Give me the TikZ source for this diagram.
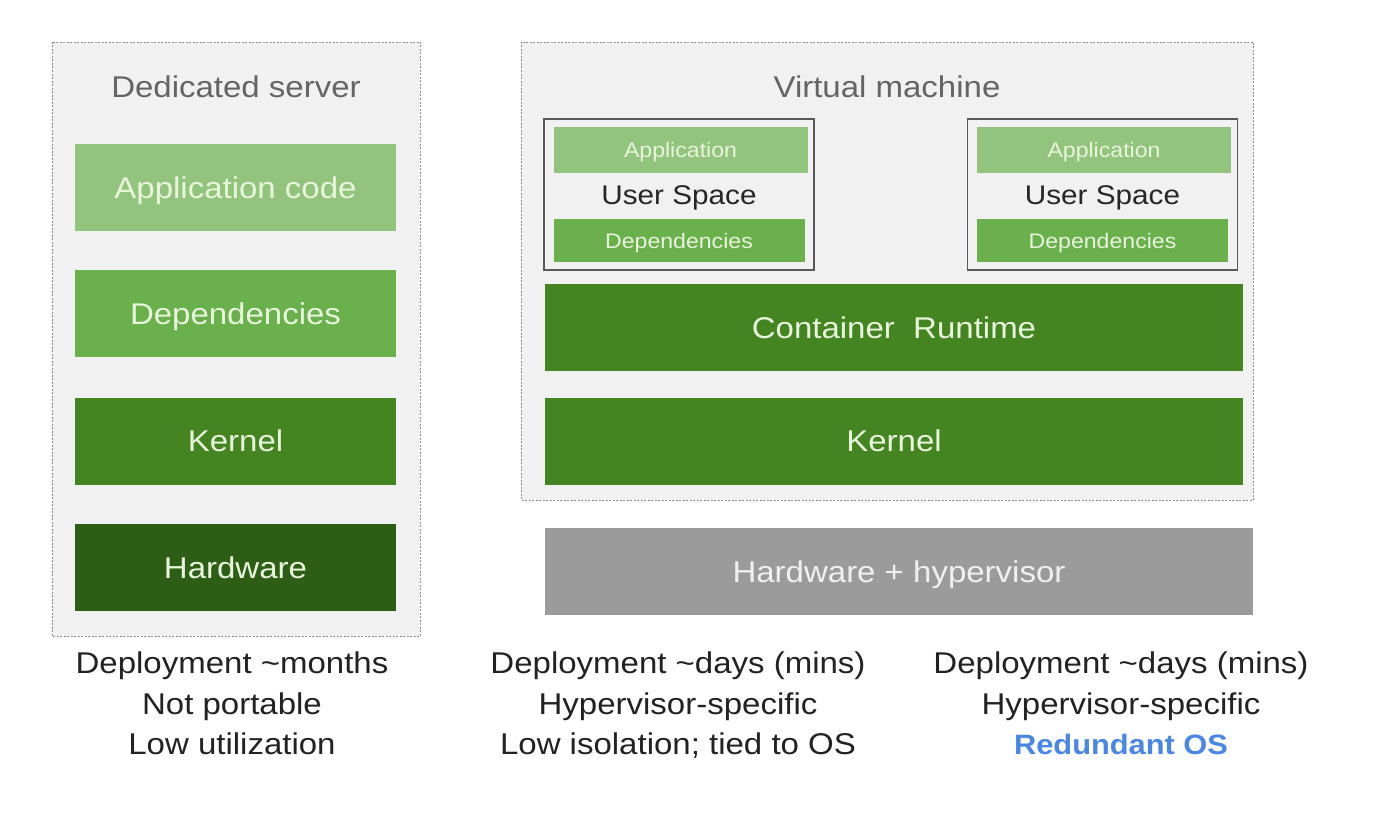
\documentclass[tikz,border=0pt]{standalone}
\usepackage{fontspec}
\setmainfont{Liberation Sans}[FakeStretch=1.1]
\usepackage{tikz}
\usepackage{color}
\definecolor{panelgray}{RGB}{241,241,241}
\definecolor{framegray}{RGB}{140,140,140}
\definecolor{titlegray}{RGB}{100,100,100}
\definecolor{appgreen}{RGB}{147,196,125}
\definecolor{depgreen}{RGB}{106,176,76}
\definecolor{kerngreen}{RGB}{68,133,34}
\definecolor{hwgreen}{RGB}{46,94,22}
\definecolor{hvgray}{RGB}{155,155,155}
\definecolor{labelgreen}{RGB}{232,245,220}
\definecolor{notetext}{RGB}{34,34,34}
\definecolor{noteblue}{RGB}{74,134,232}

\begin{document}
\begin{tikzpicture}[x=1pt, y=-1pt,
    panel/.style={draw=framegray, fill=panelgray, line width=0.9pt, dash pattern=on 2pt off 1.5pt},
    title/.style={text=titlegray, inner sep=0pt, anchor=base, font=\fontsize{30}{36}\selectfont},
    layer/.style={fill=#1, text=labelgreen, inner sep=0pt, minimum height=87pt,
      text height=21.5pt, text depth=0pt, font=\fontsize{30}{36}\selectfont},
    minilayer/.style={fill=#1, text=labelgreen, inner sep=0pt,
      text height=15pt, text depth=0pt, font=\fontsize{21}{25}\selectfont},
    userspace/.style={draw=black!65, fill=panelgray, line width=1.2pt, inner sep=0pt,
      minimum width=270pt, minimum height=151pt, text=black!85,
      text height=19.5pt, text depth=0pt, font=\fontsize{27}{32}\selectfont},
    note/.style={text=notetext, inner sep=0pt, anchor=north, align=center,
      font=\fontsize{30}{40.5}\selectfont}]

  % draws the page and the two dashed panels
  \path[fill=white, use as bounding box] (0,0) rectangle (1394,816);
  \draw[panel] (52,42) rectangle (420,636);
  \draw[panel] (521,42) rectangle (1253,500);

  % draws the dedicated server stack
  \node[title] (ds-title) at (236,97) {Dedicated server};
  \foreach \name/\col/\y/\txt in {app/appgreen/187.5/Application code,
      deps/depgreen/313.5/Dependencies,
      kern/kerngreen/441/Kernel,
      hw/hwgreen/567.5/Hardware}
    \node[layer=\col, minimum width=321pt] (ds-\name) at (235.5,\y) {\txt};

  % draws the virtual machine stack
  \node[title] (vm-title) at (887,97) {Virtual machine};
  \foreach \x [count = \i] in {679,1102.5} {
    \node[userspace] (vm-us\i) at (\x,194.5) {User Space};
    \node[minilayer=appgreen, minimum width=254pt, minimum height=46pt] (vm-app\i) at (\x+1.5,150) {Application};
    \node[minilayer=depgreen, minimum width=251pt, minimum height=43pt] (vm-deps\i) at (\x,240.5) {Dependencies};
  }
  \node[layer=kerngreen, minimum width=698pt] (vm-runtime) at (894,327.5) {Container\ \ Runtime};
  \node[layer=kerngreen, minimum width=698pt] (vm-kern) at (894,441) {Kernel};
  \node[layer=hvgray, text=white!94!black, minimum width=708pt] (vm-hw) at (899,571.5) {Hardware + hypervisor};

  % draws the notes under each stack
  \node[note] (note-ds) at (232,652) {Deployment \textasciitilde months\\Not portable\\Low utilization};
  \node[note] (note-vm) at (678,652) {Deployment \textasciitilde days (mins)\\Hypervisor-specific\\Low isolation; tied to OS};
  \node[note] (note-ct) at (1121,652) {Deployment \textasciitilde days (mins)\\Hypervisor-specific\\\textcolor{noteblue}{\fontsize{28}{40.5}\selectfont\bfseries Redundant OS}};
\end{tikzpicture}
\end{document}
